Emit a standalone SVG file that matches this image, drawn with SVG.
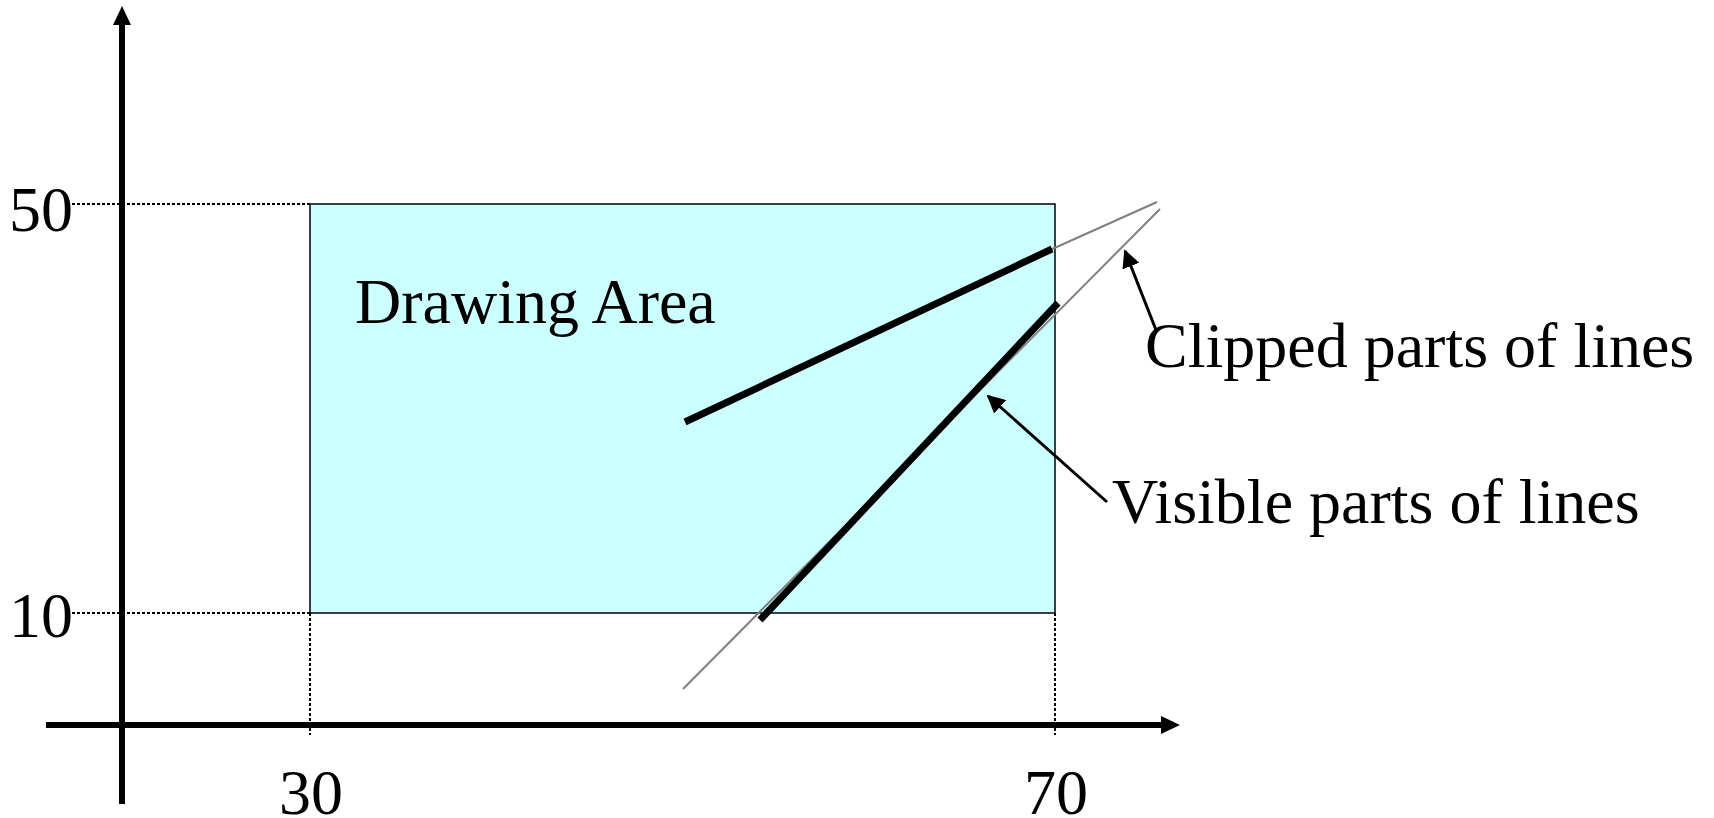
<svg xmlns="http://www.w3.org/2000/svg" width="1714" height="818" viewBox="0 0 1714 818">
  <style>
    .t { font-family: "Liberation Serif", "Times New Roman", serif; font-size: 64px; fill: #000; }
    .dot { stroke: #000; stroke-width: 2; stroke-dasharray: 3 2; fill: none; }
    .axis { stroke: #000; stroke-width: 6; fill: none; }
    .thick { stroke: #000; stroke-width: 7; fill: none; }
    .gray { stroke: #808080; stroke-width: 2; fill: none; }
    .ptr { stroke: #000; stroke-width: 3; fill: none; marker-end: url(#ah); }
  </style>
  <defs>
    <marker id="ah" viewBox="0 0 10 10" refX="9" refY="5" markerWidth="6" markerHeight="6" markerUnits="strokeWidth" orient="auto">
      <path d="M0,0 L10,5 L0,10 Z" fill="#000"/>
    </marker>
  </defs>
  <rect width="1714" height="818" fill="#fff"/>

  <g id="drawing-area">
    <rect x="310" y="204" width="745" height="409" fill="#CCFFFF" stroke="#000" stroke-width="1.5"/>
    <text class="t" x="355" y="323">Drawing Area</text>
  </g>

  <g id="guides">
    <line class="dot" x1="72" y1="204" x2="310" y2="204"/>
    <line class="dot" x1="72" y1="613" x2="310" y2="613"/>
    <line class="dot" x1="310" y1="613" x2="310" y2="735"/>
    <line class="dot" x1="1055" y1="613" x2="1055" y2="735"/>
  </g>

  <g id="axes">
    <line class="axis" x1="122" y1="804" x2="122" y2="22"/>
    <path d="M122,6 L131,25 L113,25 Z" fill="#000"/>
    <line class="axis" x1="46" y1="725" x2="1164" y2="725"/>
    <path d="M1180,725 L1161,734 L1161,716 Z" fill="#000"/>
    <text class="t" x="9" y="231">50</text>
    <text class="t" x="9" y="637">10</text>
    <text class="t" x="279" y="814">30</text>
    <text class="t" x="1024" y="814">70</text>
  </g>

  <g id="lines">
    <line class="gray" x1="1050" y1="250" x2="1157" y2="202"/>
    <line class="gray" x1="683" y1="689" x2="1160" y2="209"/>
    <line class="thick" x1="685" y1="422" x2="1052" y2="249"/>
    <line class="thick" x1="760" y1="620" x2="1058" y2="303"/>
  </g>

  <g id="connectors">
    <line class="ptr" x1="1156" y1="330" x2="1125" y2="251"/>
    <line class="ptr" x1="1107" y1="502" x2="988" y2="396"/>
  </g>

  <g id="label-clipped">
    <text class="t" x="1145" y="367">Clipped parts of lines</text>
  </g>
  <g id="label-visible">
    <text class="t" x="1112" y="523">Visible parts of lines</text>
  </g>
</svg>
